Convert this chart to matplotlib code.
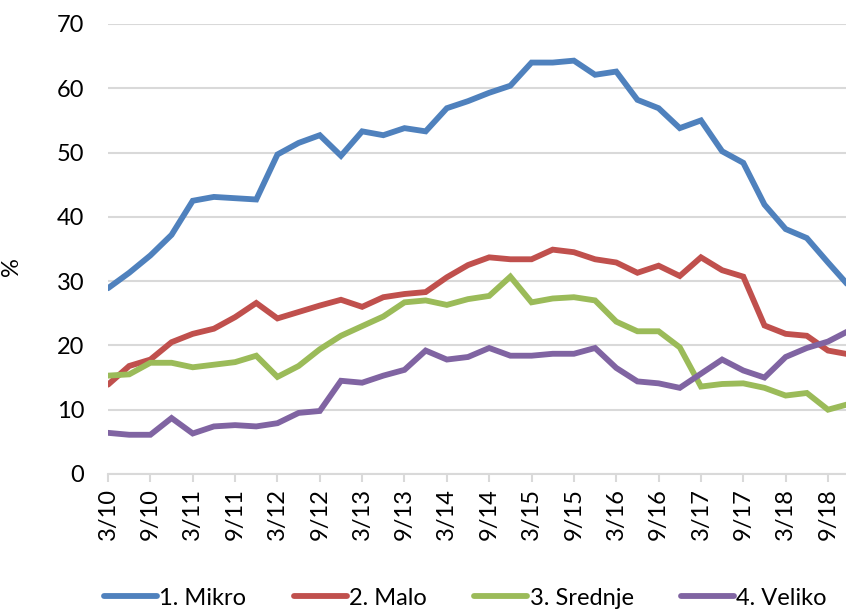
import matplotlib as mpl
import matplotlib.pyplot as plt

mpl.rcParams["font.family"] = ["Lato", "DejaVu Sans"]

# ------------------------------------------------------------------
# data (quarterly, 3/10 .. 12/18), values in %
# ------------------------------------------------------------------
mikro = [28.9, 31.3, 34.0, 37.2, 42.5, 43.1, 42.9, 42.7, 49.7, 51.5, 52.7, 49.5,
         53.3, 52.7, 53.8, 53.3, 56.9, 58.0, 59.3, 60.4, 64.0, 64.0, 64.3, 62.1,
         62.6, 58.2, 56.9, 53.8, 55.0, 50.2, 48.4, 41.9, 38.1, 36.7, 32.9, 29.2]
malo = [13.9, 16.8, 17.8, 20.5, 21.8, 22.6, 24.4, 26.6, 24.2, 25.2, 26.2, 27.1,
        26.0, 27.5, 28.0, 28.3, 30.6, 32.5, 33.7, 33.4, 33.4, 34.9, 34.5, 33.4,
        32.9, 31.3, 32.4, 30.8, 33.7, 31.7, 30.7, 23.1, 21.8, 21.5, 19.2, 18.6]
srednje = [15.3, 15.5, 17.3, 17.3, 16.6, 17.0, 17.4, 18.4, 15.1, 16.8, 19.4, 21.5,
           23.0, 24.5, 26.7, 27.0, 26.3, 27.2, 27.7, 30.7, 26.7, 27.3, 27.5, 27.0,
           23.7, 22.2, 22.2, 19.7, 13.6, 14.0, 14.1, 13.4, 12.2, 12.6, 10.0, 10.9]
veliko = [6.4, 6.1, 6.1, 8.7, 6.3, 7.4, 7.6, 7.4, 7.9, 9.5, 9.8, 14.5,
          14.2, 15.3, 16.2, 19.2, 17.8, 18.2, 19.6, 18.4, 18.4, 18.7, 18.7, 19.6,
          16.5, 14.4, 14.1, 13.4, 15.6, 17.8, 16.1, 15.0, 18.2, 19.6, 20.6, 22.3]

tick_labels = ["3/10", "9/10", "3/11", "9/11", "3/12", "9/12", "3/13", "9/13",
               "3/14", "9/14", "3/15", "9/15", "3/16", "9/16", "3/17", "9/17",
               "3/18", "9/18"]

series = [
    ("1. Mikro", mikro, "#4F81BD"),
    ("2. Malo", malo, "#C0504D"),
    ("3. Srednje", srednje, "#9BBB59"),
    ("4. Veliko", veliko, "#8064A2"),
]

# ------------------------------------------------------------------
# plot
# ------------------------------------------------------------------
fig = plt.figure(figsize=(8.46, 6.09), dpi=100)
ax = fig.add_axes([0.1277, 0.2217, 0.8723, 0.7389])

x = list(range(len(mikro)))
for name, vals, col in series:
    ax.plot(x, vals, color=col, lw=4.2, label=name, solid_capstyle="round",
            solid_joinstyle="miter")

ax.set_ylim(0, 70)
ax.set_yticks(range(0, 71, 10))
ax.set_xlim(0, 34.85)
ax.set_xticks(range(0, 2 * len(tick_labels), 2))
ax.set_xticklabels(tick_labels, rotation=90)

ax.grid(axis="y", color="#D9D9D9", lw=1.5)
ax.set_axisbelow(True)
for s in ["top", "right", "left"]:
    ax.spines[s].set_visible(False)
ax.spines["bottom"].set_color("#D9D9D9")
ax.spines["bottom"].set_linewidth(1.5)

ax.tick_params(axis="y", length=0, pad=17, labelsize=17)
ax.tick_params(axis="x", length=6, width=1.5, color="#D9D9D9", pad=4, labelsize=17)

ax.set_ylabel("%", fontsize=17)
ax.yaxis.set_label_coords(-0.1165, 0.46)

fig.legend(loc="center", bbox_to_anchor=(0.55, 0.018), ncol=4, frameon=False,
           fontsize=17, handlelength=2.25, handletextpad=0.1, columnspacing=2.0)

fig.savefig("out.png", dpi=100)
plt.close(fig)
